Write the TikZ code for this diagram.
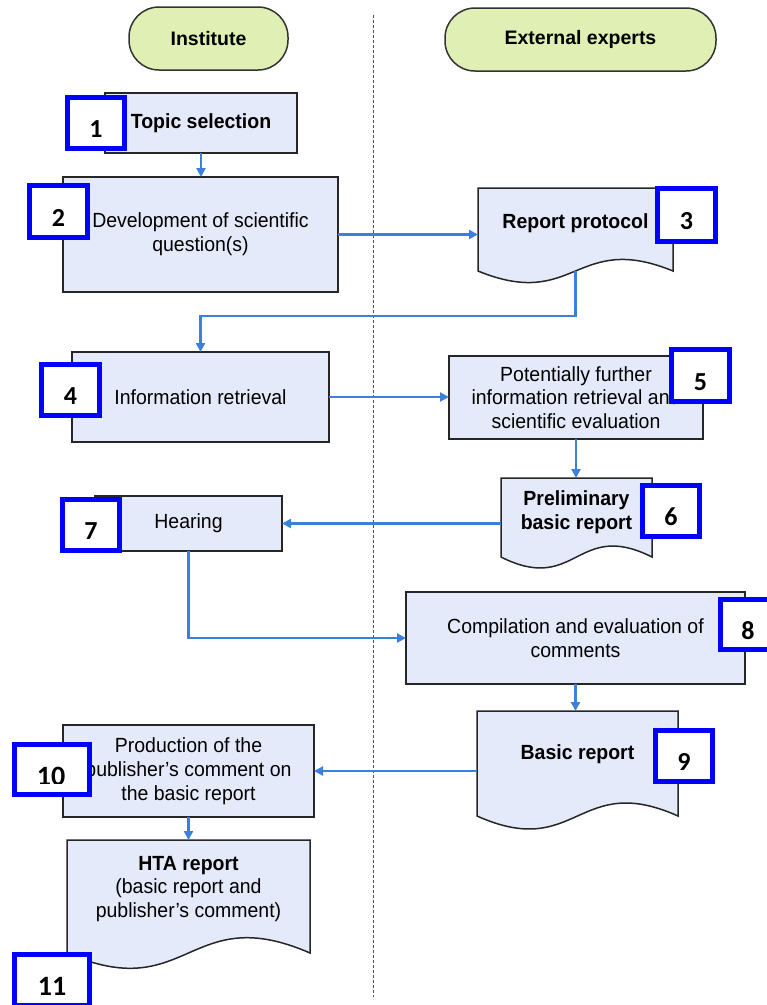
\documentclass[tikz,border=0pt]{standalone}
\usepackage{fontspec}
\setmainfont{Liberation Sans}
\newfontfamily\boxfont{Liberation Sans}[FakeStretch=0.95]
\newfontfamily\numfont{Carlito}
\usetikzlibrary{arrows.meta,calc}

\definecolor{boxfill}{RGB}{228,234,249}
\definecolor{pillfill}{RGB}{224,240,180}
\definecolor{flow}{RGB}{60,128,222}
\definecolor{numblue}{RGB}{0,0,255}
\definecolor{laneline}{RGB}{80,80,80}

% document symbol: flat top, wavy bottom, drawn over an invisible node
\newcommand\docoutline[2]{%
  \path[draw=black!85, line width=1.5pt, fill=boxfill]
    (#1.north west) -- (#1.north east) -- (#1.south east)
    .. controls ($(#1.south)+(0,-#2)$) and ($(#1.south)+(0,#2)$) .. (#1.south west)
    -- cycle;}

\begin{document}
\begin{tikzpicture}[x=1pt,y=-1pt,
  every node/.style={inner sep=0pt, outer sep=0pt},
  procbox/.style={draw=black!85, line width=1.5pt, fill=boxfill, align=center,
    font=\boxfont\fontsize{20.5}{23.7}\selectfont},
  procbold/.style={procbox, font=\boxfont\bfseries\fontsize{20.5}{23.7}\selectfont},
  docarea/.style={},
  doclabel/.style={align=center, font=\boxfont\fontsize{20.5}{23.7}\selectfont},
  doclabelbold/.style={align=center, font=\boxfont\bfseries\fontsize{20.5}{23.7}\selectfont},
  pill/.style={draw=black!80, line width=1.5pt, fill=pillfill, rounded corners=30pt,
    font=\bfseries\fontsize{19.5}{22}\selectfont},
  numbox/.style={draw=numblue, line width=5pt, fill=white,
    font=\numfont\bfseries\fontsize{26}{26}\selectfont, text height=29pt, text depth=0pt},
  numboxwide/.style={numbox, font=\numfont\bfseries\fontsize{28}{28}\selectfont, text height=31pt},
  numtext/.style={font=\numfont\bfseries\fontsize{28}{28}\selectfont},
  flowline/.style={draw=flow, line width=2.2pt},
  flowarrow/.style={flowline, -{Triangle[length=9pt,width=9pt]}},
]
\useasboundingbox (0,0) rectangle (767,1005);
\clip (0,0) rectangle (767,1005);

% swimlane separator
\coordinate (lanetop) at (373,15);
\coordinate (lanebot) at (373,997);
\draw[laneline, line width=1pt, dash pattern=on 3pt off 2pt] (lanetop) -- (lanebot);

% lane headers
\node[pill, minimum width=159, minimum height=63] (inst) at (208.5,38.5) {Institute};
\node[pill, minimum width=271, minimum height=63] (ext) at (580.5,39.5) {External experts};

% process steps
\node[procbold, minimum width=192, minimum height=60] (b1) at (201,123) {Topic selection};
\node[procbox, minimum width=275, minimum height=115] (b2) at (200.5,234.5) {Development of scientific\\question(s)};
\node[procbox, minimum width=257, minimum height=90] (b4) at (200.5,397) {Information retrieval};
\node[procbox, minimum width=254, minimum height=83] (b5) at (576,397.5) {Potentially further\\information retrieval and\\scientific evaluation};
\node[procbox, minimum width=187, minimum height=55] (b7) at (188.5,523.5) {Hearing};
\node[procbox, minimum width=339, minimum height=92] (b8) at (575.5,638) {Compilation and evaluation of\\comments};
\node[procbox, minimum width=251, minimum height=92] (b10) at (188.5,771) {Production of the\\publisher’s comment on\\the basic report};

% documents
\node[docarea, minimum width=195, minimum height=83] (d3) at (575.5,229.5) {};
\docoutline{d3}{40}
\node[doclabelbold] (d3t) at ($(d3.center)+(0,-6.5)$) {Report protocol};

\node[docarea, minimum width=151, minimum height=79] (d6) at (576.5,517.5) {};
\docoutline{d6}{38}
\node[doclabelbold] (d6t) at ($(d6.center)+(0,-5.5)$) {Preliminary\\basic report};

\node[docarea, minimum width=201, minimum height=105] (d9) at (577.5,763.5) {};
\docoutline{d9}{45}
\node[doclabelbold] (d9t) at ($(d9.center)+(0,-9.5)$) {Basic report};

\node[docarea, minimum width=243, minimum height=113] (d11) at (188.5,896.5) {};
\docoutline{d11}{53}
\node[doclabel] (d11t) at ($(d11.center)+(0,-7.5)$) {\textbf{HTA report}\\(basic report and\\publisher’s comment)};

% flow connectors
\coordinate (m34) at (0,316);
\draw[flowarrow] (b1.south) -- (b1.south |- b2.north);
\draw[flowarrow] (b2.east) -- (b2.east -| d3.west);
\draw[flowarrow] (d3.south) -- (d3.south |- m34) -- (b4.north |- m34) -- (b4.north);
\draw[flowarrow] (b4.east) -- (b4.east -| b5.west);
\draw[flowarrow] (b5.south) -- (b5.south |- d6.north);
\draw[flowarrow] (d6.west |- b7.east) -- (b7.east);
\draw[flowarrow] (b7.south) |- (b8.west);
\draw[flowarrow] (b8.south) -- (b8.south |- d9.north);
\draw[flowarrow] (d9.west |- b10.east) -- (b10.east);
\draw[flowarrow] (b10.south) -- (b10.south |- d11.north);

% step numbers
\node[numbox, minimum width=57, minimum height=51] (n1) at (96,123) {1};
\node[numbox, minimum width=58, minimum height=52] (n2) at (58.5,211.5) {2};
\node[numbox, minimum width=58, minimum height=53] (n3) at (686.5,215) {3};
\node[numbox, minimum width=58, minimum height=51] (n4) at (70.5,390) {4};
\node[numbox, minimum width=58, minimum height=52] (n5) at (700.5,375.5) {5};
\node[numbox, minimum width=57, minimum height=51] (n6) at (671,511) {6};
\node[numbox, minimum width=57, minimum height=51] (n7) at (91,525) {7};
\node[numbox, minimum width=55, minimum height=50] (n8) at (748,624.5) {8};
\node[numbox, minimum width=57, minimum height=51] (n9) at (684,756) {9};
\node[numbox, minimum width=75, minimum height=50] (n10) at (52,769.5) {};
\begin{scope}
  \clip (0,700) rectangle (767,783);
  \node[numtext, anchor=base] (n10t) at (51,785) {10};
\end{scope}
\node[numboxwide, minimum width=75, minimum height=51] (n11) at (52,980) {11};
\end{tikzpicture}
\end{document}
